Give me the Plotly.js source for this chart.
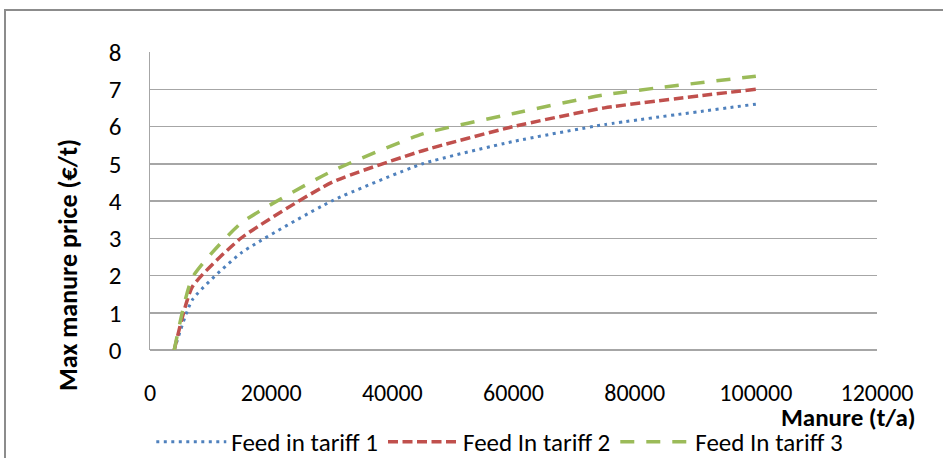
<!DOCTYPE html>
<html>
<head>
<meta charset="utf-8">
<script src="https://cdn.plot.ly/plotly-3.0.1.min.js"></script>
<style>
  html, body { margin: 0; padding: 0; background: #fff; }
  #wrap { position: relative; width: 943px; height: 458px; overflow: hidden; }
  #chart { width: 943px; height: 458px; }
  #frame { position: absolute; left: 4px; top: 9px; width: 960px; height: 470px;
           border-left: 2px solid #8c8c8c; border-top: 2px solid #8c8c8c; pointer-events: none; }
</style>
</head>
<body>
<div id="wrap">
  <div id="chart"></div>
  <div id="frame"></div>
</div>
<script>
const manure = [4000, 7000, 15000, 30000, 45000, 60000, 75000, 100000];
const tariff1 = [0, 1.35, 2.6, 4.0, 5.0, 5.6, 6.05, 6.6];
const tariff2 = [0, 1.7, 3.0, 4.5, 5.35, 6.0, 6.5, 7.0];
const tariff3 = [0, 1.95, 3.4, 4.8, 5.8, 6.35, 6.85, 7.35];
const seriesNames = ["Feed in tariff 1", "Feed In tariff 2", "Feed In tariff 3"];
const xTicks = [0, 20000, 40000, 60000, 80000, 100000, 120000];

const FONT = "Calibri, Carlito, Lato, sans-serif";

const traces = [
  { x: manure, y: tariff1, name: seriesNames[0], mode: "lines",
    line: { color: "#4f81bd", width: 3, dash: "3px,4.5px", shape: "spline", smoothing: 0.5 } },
  { x: manure, y: tariff2, name: seriesNames[1], mode: "lines",
    line: { color: "#c0504d", width: 3.5, dash: "10px,4.5px", shape: "spline", smoothing: 0.5 } },
  { x: manure, y: tariff3, name: seriesNames[2], mode: "lines",
    line: { color: "#9bbb59", width: 3.5, dash: "14px,12px", shape: "spline", smoothing: 0.5 } }
];

const layout = {
  width: 943, height: 458,
  margin: { l: 150, r: 66, t: 52, b: 108, autoexpand: false },
  paper_bgcolor: "#fff", plot_bgcolor: "#fff",
  font: { family: FONT, size: 24, color: "#000" },
  showlegend: true,
  legend: { orientation: "h", xref: "container", yref: "container",
            x: 0.53, xanchor: "center", y: 0.035, yanchor: "middle",
            itemwidth: 70, tracegroupgap: 0,
            font: { family: FONT, size: 25, color: "#000" }, traceorder: "normal" },
  xaxis: {
    range: [0, 120000], tickvals: xTicks, ticktext: xTicks.map(String),
    showgrid: false, zeroline: false, showline: false, ticks: "",
    ticklabelstandoff: 26, tickfont: { family: FONT, size: 24 }
  },
  yaxis: {
    range: [0, 8], dtick: 1, showgrid: true, gridcolor: "#a6a6a6", gridwidth: 1.5,
    zeroline: true, zerolinecolor: "#a6a6a6", zerolinewidth: 1.5,
    showline: true, linecolor: "#a6a6a6", linewidth: 1.5, ticks: "",
    ticklabelstandoff: 22, tickfont: { family: FONT, size: 25 }
  },
  annotations: [
    { text: "<b>Manure (t/a)</b>", xref: "paper", yref: "paper", x: 1.056, y: -0.226,
      xanchor: "right", yanchor: "middle", showarrow: false, font: { family: FONT, size: 25 } },
    { text: "<b>Max manure price (€/t)</b>", xref: "paper", yref: "paper", x: -0.113, y: 0.285,
      xanchor: "center", yanchor: "middle", textangle: -90, showarrow: false,
      font: { family: FONT, size: 26 } }
  ]
};

Plotly.newPlot("chart", traces, layout, { displayModeBar: false, staticPlot: true });
</script>
</body>
</html>
